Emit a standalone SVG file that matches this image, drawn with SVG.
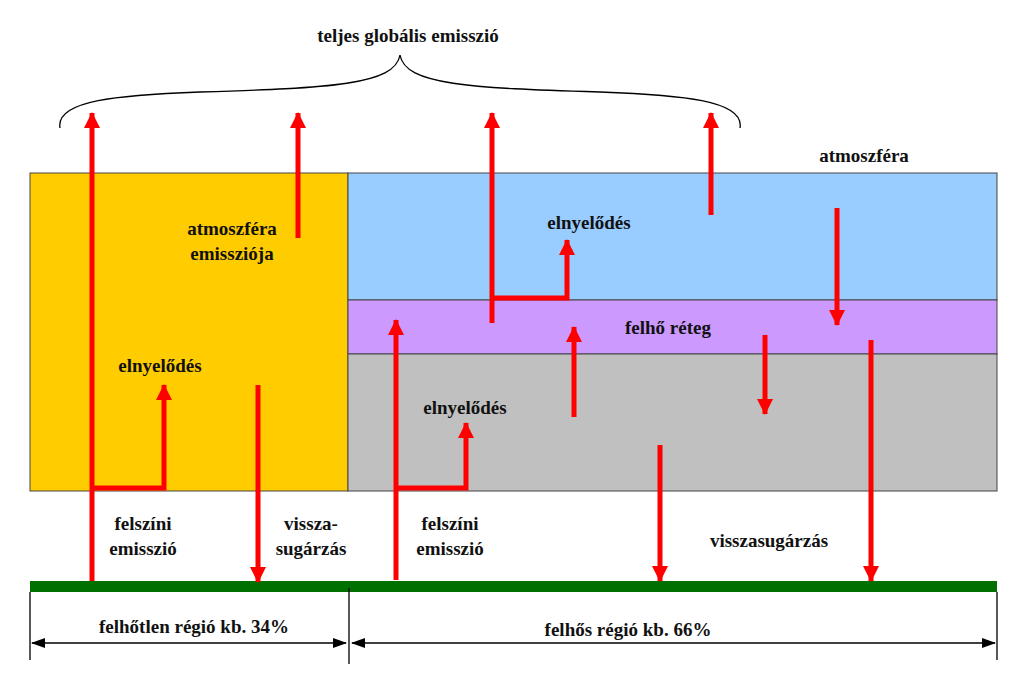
<svg xmlns="http://www.w3.org/2000/svg" width="1024" height="684" viewBox="0 0 1024 684">
<style>
text{font-family:"Liberation Serif",serif;font-weight:bold;font-size:19px;fill:#111;text-anchor:middle}
.r{stroke:#f00;stroke-width:5;fill:none}
.k{stroke:#000;stroke-width:1.3;fill:none}
</style>
<defs>
<marker id="ah" markerUnits="userSpaceOnUse" markerWidth="16" markerHeight="18" refX="15" refY="8" orient="auto"><path d="M0,0L16,8L0,16z" fill="#f00"/></marker>
<marker id="bh" markerUnits="userSpaceOnUse" markerWidth="14" markerHeight="12" refX="13" refY="5" orient="auto-start-reverse"><path d="M0,0L14,5L0,10z" fill="#000"/></marker>
</defs>
<rect width="1024" height="684" fill="#fff"/>
<g id="nodes">
<g id="clearsky"><rect x="30" y="173" width="318" height="318" fill="#ffcc00" stroke="#444"/></g>
<g id="atm"><rect x="348" y="173" width="649" height="127" fill="#99ccff" stroke="#444"/></g>
<g id="cloud"><rect x="348" y="300" width="649" height="54" fill="#cc99ff" stroke="#444"/></g>
<g id="below"><rect x="348" y="354" width="649" height="137" fill="#c0c0c0" stroke="#444"/></g>
<g id="ground"><rect x="30" y="581" width="967" height="11" fill="#007000"/></g>
</g>
<g id="connectors">
<path class="k" d="M60,128 C55,100 120,95 200,92 C330,88 395,85 400,55 C405,85 470,88 600,92 C680,95 745,100 740,128" stroke-width="2.5"/>
<path class="r" d="M92,581V113" marker-end="url(#ah)"/>
<path class="r" d="M92,488H164V385" marker-end="url(#ah)"/>
<path class="r" d="M298,238V113" marker-end="url(#ah)"/>
<path class="r" d="M258,385V582" marker-end="url(#ah)"/>
<path class="r" d="M396,580V320" marker-end="url(#ah)"/>
<path class="r" d="M396,488H466V423" marker-end="url(#ah)"/>
<path class="r" d="M492,323V113" marker-end="url(#ah)"/>
<path class="r" d="M492,298H567V240" marker-end="url(#ah)"/>
<path class="r" d="M711,215V113" marker-end="url(#ah)"/>
<path class="r" d="M837,208V325" marker-end="url(#ah)"/>
<path class="r" d="M574,417V327" marker-end="url(#ah)"/>
<path class="r" d="M765,335V414" marker-end="url(#ah)"/>
<path class="r" d="M660,445V581" marker-end="url(#ah)"/>
<path class="r" d="M871,340V581" marker-end="url(#ah)"/>
<path class="k" d="M30,592V660M349,588V664M997,592V660"/>
<path class="k" d="M32,643H346" marker-start="url(#bh)" marker-end="url(#bh)"/>
<path class="k" d="M352,643H995" marker-start="url(#bh)" marker-end="url(#bh)"/>
</g>
<g id="labels">
<text x="408" y="42">teljes globális emisszió</text>
<text x="864" y="162">atmoszféra</text>
<text x="232" y="235">atmoszféra</text>
<text x="232" y="260">emissziója</text>
<text x="160" y="372">elnyelődés</text>
<text x="589" y="229">elnyelődés</text>
<text x="668" y="334">felhő réteg</text>
<text x="465" y="414">elnyelődés</text>
<text x="143" y="530">felszíni</text>
<text x="143" y="555">emisszió</text>
<text x="311" y="530">vissza-</text>
<text x="311" y="555">sugárzás</text>
<text x="450" y="530">felszíni</text>
<text x="450" y="555">emisszió</text>
<text x="769" y="547">visszasugárzás</text>
<text x="194" y="633">felhőtlen régió kb. 34%</text>
<text x="628" y="636">felhős régió kb. 66%</text>
</g>
</svg>
